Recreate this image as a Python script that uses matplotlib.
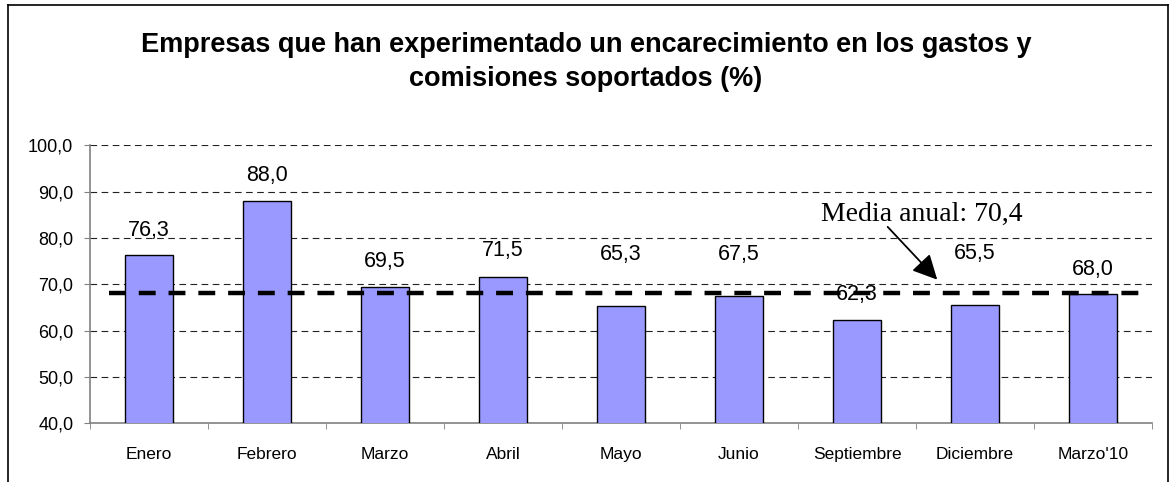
import matplotlib
matplotlib.use("Agg")
import matplotlib.pyplot as plt
from matplotlib.lines import Line2D
import numpy as np

categories = ["Enero", "Febrero", "Marzo", "Abril", "Mayo", "Junio",
              "Septiembre", "Diciembre", "Marzo'10"]
values = [76.3, 88.0, 69.5, 71.5, 65.3, 67.5, 62.3, 65.5, 68.0]
label_offsets = [5.4, 5.6, 5.5, 5.7, 11.2, 9.0, 5.5, 11.2, 5.1]
mean_line_level = 68.2
mean_text = "Media anual: 70,4"
yticks = [40, 50, 60, 70, 80, 90, 100]
title = "Empresas que han experimentado un encarecimiento en los gastos y\ncomisiones soportados (%)"

plt.rcParams['font.family'] = ['Liberation Sans', 'DejaVu Sans']

fig = plt.figure(figsize=(11.74, 4.82), dpi=100)
ax = fig.add_axes([90/1174, 1 - 423.2/482, (1152 - 90)/1174, (423.2 - 145.4)/482])

x = np.arange(len(categories))
ax.bar(x, values, width=0.41, color="#9999FF", edgecolor="black", linewidth=1.0, zorder=3)

ax.set_xlim(-0.5, len(categories) - 0.5)
ax.set_ylim(40, 100)
ax.set_yticks(yticks)
ax.set_yticklabels([f"{v:.1f}".replace(".", ",") for v in yticks], fontsize=13)

ax.set_xticks(x)
ax.set_xticklabels(categories, fontsize=12.5)
ax.set_xticks(np.arange(len(categories) + 1) - 0.5, minor=True)
ax.tick_params(axis='x', which='major', length=0, pad=17)
ax.tick_params(axis='x', which='minor', length=4, color="#808080", direction='out')
ax.tick_params(axis='y', length=4, color="#808080", pad=8)

for s in ["top", "right"]:
    ax.spines[s].set_visible(False)
for s in ["left", "bottom"]:
    ax.spines[s].set_color("#808080")
    ax.spines[s].set_linewidth(1.2)

for v in yticks[1:]:
    ax.axhline(v, color="#222222", linewidth=0.8, linestyle=(0, (6, 4)), zorder=1)

for xi, v, off in zip(x, values, label_offsets):
    ax.text(xi, v + off, f"{v:.1f}".replace(".", ","), ha="center", va="center",
            fontsize=15.5, zorder=5)

ax.plot([-0.34, 8.48], [mean_line_level, mean_line_level], color="black", linewidth=3.2,
        linestyle=(0, (3.8, 2.9)), zorder=4)

ax.text(6.55, 85.0, mean_text, fontsize=20, family=['Liberation Serif', 'DejaVu Serif'],
        ha="center", va="center", zorder=6)
ax.annotate("", xy=(6.68, 71.0), xytext=(6.26, 82.4),
            arrowprops=dict(arrowstyle="-|>,head_length=0.5,head_width=0.25",
                            color="black", lw=1.3,
                            mutation_scale=30, shrinkA=0, shrinkB=0),
            zorder=6)

fig.text(0.5 * (140 + 1032) / 1174, 1 - 62/482, title, ha="center", va="center",
         fontsize=19.5, fontweight="bold", linespacing=1.45)

# outer chart border
W, H = 1174, 482
for xs, ys in [([8, 8], [482, 5]), ([8, 1168], [5, 5]), ([1168, 1168], [5, 482])]:
    fig.add_artist(Line2D([a / W for a in xs], [1 - b / H for b in ys],
                          color="black", linewidth=1.2))

fig.savefig("out.png", dpi=100)
